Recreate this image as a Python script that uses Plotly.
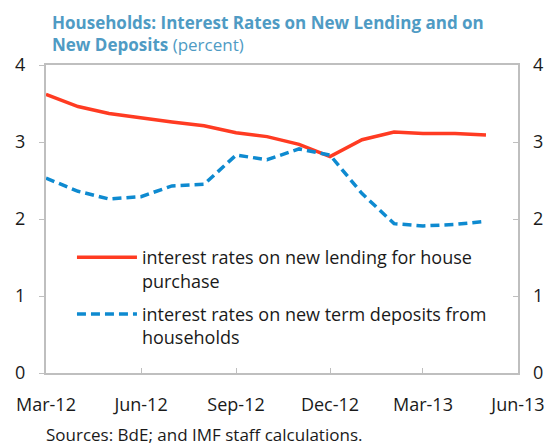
import plotly.graph_objects as go

months = ["2012-03-01", "2012-04-01", "2012-05-01", "2012-06-01", "2012-07-01",
          "2012-08-01", "2012-09-01", "2012-10-01", "2012-11-01", "2012-12-01",
          "2013-01-01", "2013-02-01", "2013-03-01", "2013-04-01", "2013-05-01"]
lending = [3.62, 3.46, 3.37, 3.31, 3.26, 3.21, 3.12, 3.07, 2.97, 2.81,
           3.03, 3.13, 3.11, 3.11, 3.09]
deposits = [2.53, 2.36, 2.26, 2.29, 2.43, 2.45, 2.83, 2.77, 2.91, 2.83,
            2.33, 1.94, 1.91, 1.93, 1.97]
tick_vals = ["2012-03-01", "2012-06-01", "2012-09-01", "2012-12-01", "2013-03-01", "2013-06-01"]
tick_text = ["Mar-12", "Jun-12", "Sep-12", "Dec-12", "Mar-13", "Jun-13"]
y_ticks = [0, 1, 2, 3, 4]

FONT = "Open Sans"
fig = go.Figure()
fig.add_trace(go.Scatter(x=months, y=lending, mode="lines", legendgroup="lend",
                         name="interest rates on new lending for house<br>purchase",
                         line=dict(color="#ff3b22", width=3.5)))
fig.add_trace(go.Scatter(x=months, y=deposits, mode="lines", legendgroup="dep",
                         name="interest rates on new term deposits from<br>households",
                         line=dict(color="#0e8ad0", width=3.5, dash="9px,5px")))
# invisible trace for right axis
fig.add_trace(go.Scatter(x=[months[0]], y=[0], yaxis="y2", mode="markers",
                         marker=dict(opacity=0), showlegend=False, hoverinfo="skip"))

fig.update_layout(
    width=545, height=440,
    margin=dict(l=38, r=35, t=57, b=75),
    paper_bgcolor="white", plot_bgcolor="white",
    font=dict(family=FONT, size=17, color="#1a1a1a"),
    showlegend=True,
    legend=dict(x=0.055, y=0.435, xanchor="left", yanchor="top", valign="top",
                bgcolor="rgba(0,0,0,0)", font=dict(size=18, color="#1a1a1a"),
                tracegroupgap=7, itemwidth=60),
    xaxis=dict(type="date", range=["2012-03-01", "2013-06-01"],
               tickvals=tick_vals, ticktext=tick_text, automargin=False,
               showgrid=False, showline=True, linecolor="#bfbfbf", linewidth=2,
               mirror=True, ticks="inside", ticklen=5, tickcolor="#bfbfbf",
               ticklabelstandoff=14, tickfont=dict(size=18)),
    yaxis=dict(range=[0, 4], tickvals=y_ticks, showgrid=False, zeroline=False,
               automargin=False,
               showline=True, linecolor="#bfbfbf", linewidth=2, mirror=True,
               ticks="outside", ticklen=5, tickcolor="#bfbfbf",
               ticklabelstandoff=10, tickfont=dict(size=18)),
    yaxis2=dict(range=[0, 4], tickvals=y_ticks, overlaying="y", side="right",
                automargin=False,
                showgrid=False, zeroline=False, showline=False,
                ticks="inside", ticklen=5, tickcolor="#bfbfbf",
                ticklabelstandoff=14, tickfont=dict(size=18)),
)

fig.add_annotation(xref="paper", yref="paper", x=0.008, y=1.183,
                   xanchor="left", yanchor="top", align="left", showarrow=False,
                   text="<b>Households: Interest Rates on New Lending and on<br>New Deposits</b> (percent)",
                   font=dict(size=17, color="#4f9bc4"))
fig.add_annotation(xref="paper", yref="paper", x=-0.005, y=-0.243,
                   xanchor="left", yanchor="bottom", align="left", showarrow=False,
                   text="Sources: BdE; and IMF staff calculations.",
                   font=dict(size=17, color="#1a1a1a"))

fig.write_html("out.html")
